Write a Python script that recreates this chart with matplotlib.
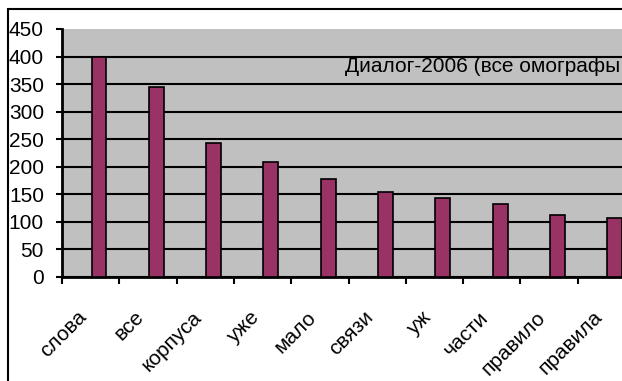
import matplotlib
matplotlib.use("Agg")
import matplotlib.pyplot as plt
from matplotlib.patches import Rectangle
import numpy as np

plt.rcParams["font.family"] = ["Liberation Sans Narrow", "Liberation Sans", "DejaVu Sans"]

words = ["слова", "все", "корпуса", "уже", "мало", "связи", "уж", "части", "правило", "правила"]
counts = [400, 344, 243, 208, 177, 154, 143, 132, 112, 107]
y_ticks = [0, 50, 100, 150, 200, 250, 300, 350, 400, 450]
series_name = "Диалог-2006 (все омографы"

W, H = 622, 381
fig = plt.figure(figsize=(W / 100, H / 100), dpi=100, facecolor="white")

# chart frame, runs off the right and bottom edges
fig.patches.append(Rectangle((8 / W, -0.1), 1.2, 1 - 9 / H + 0.1,
                             transform=fig.transFigure, facecolor="white",
                             edgecolor="black", linewidth=1.5, zorder=-1))

ax = fig.add_axes([62 / W, (H - 277) / H, 573 / W, 248 / H])
ax.set_facecolor("#C0C0C0")

x = np.arange(len(words))
ax.bar(x + 0.146, counts, width=0.26, color="#993366",
       edgecolor="black", linewidth=1.2, zorder=3)

ax.set_xlim(-0.5, len(words) - 0.5)
ax.set_ylim(0, 450)

ax.set_yticks(y_ticks)
ax.set_yticklabels([str(v) for v in y_ticks], fontsize=15)
ax.tick_params(axis="y", direction="out", length=4, width=1.5, pad=9)

# tick marks between categories, labels at the centres
ax.set_xticks(np.arange(len(words) + 1) - 0.5)
ax.set_xticklabels([])
ax.tick_params(axis="x", which="major", direction="out", length=5, width=1.5)
ax.set_xticks(x, minor=True)
ax.set_xticklabels(words, minor=True, rotation=45, ha="right", va="top",
                   fontsize=15)
ax.tick_params(axis="x", which="minor", length=0, pad=22)

ax.grid(axis="y", color="black", linewidth=1.5, zorder=1)
ax.set_axisbelow(True)
ax.get_ygridlines()[-1].set_visible(False)

for side in ["top", "right"]:
    ax.spines[side].set_visible(False)
ax.spines["left"].set_linewidth(2)
ax.spines["bottom"].set_linewidth(2)

ax.text(283 / 573, (277 - 67) / 248, series_name, transform=ax.transAxes,
        ha="left", va="center", fontsize=15, zorder=4)

fig.savefig("out.png", dpi=100, facecolor="white")
